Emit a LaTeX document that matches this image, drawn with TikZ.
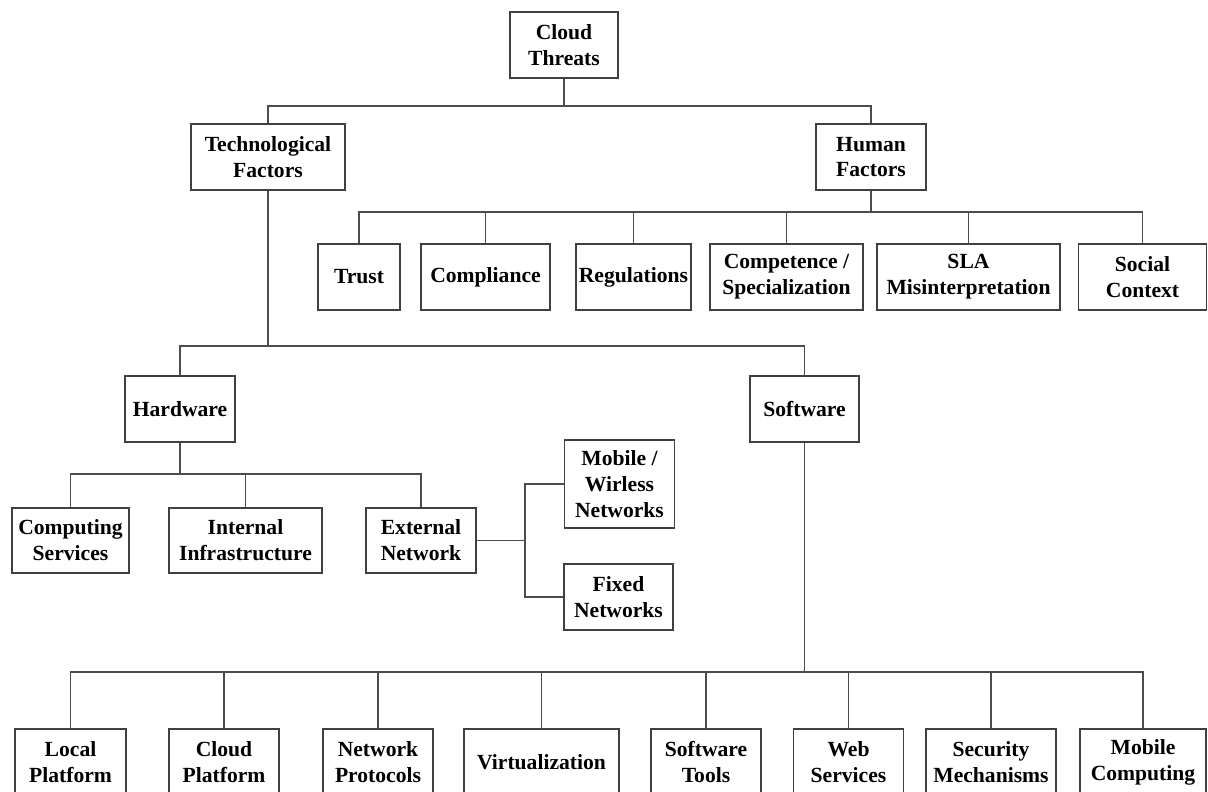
\documentclass[tikz,border=0pt]{standalone}
\usepackage{fontspec}
\setmainfont{Liberation Serif}
\begin{document}
\begin{tikzpicture}[x=1bp,y=-1bp,
  bx/.style={draw=black!75, line width=1.3bp, fill=white, inner sep=0pt, minimum height=66bp,
    align=center, font=\fontsize{21.6bp}{25.8bp}\selectfont\bfseries},
  ln/.style={draw=black!70, line width=1.3bp}]
\useasboundingbox (0,0) rectangle (1208,792);
\clip (0,0) rectangle (1208,792);
% levels
\coordinate (b1) at (0,106);
\coordinate (b2) at (0,212);
\coordinate (b3) at (0,346);
\coordinate (b4) at (0,474);
\coordinate (b5) at (0,672);
\coordinate (ex) at (525,0);
% nodes
\node[bx, minimum width=108bp] (CT) at (564,45) {Cloud\\Threats};
\node[bx, minimum width=154bp] (TF) at (268,157) {Technological\\Factors};
\node[bx, minimum width=110bp] (HF) at (871,157) {Human\\Factors};
\node[bx, minimum width=82bp] (tr) at (359,277) {Trust};
\node[bx, minimum width=129bp] (co) at (485.5,277) {Compliance};
\node[bx, minimum width=115bp] (re) at (633.5,277) {Regulations};
\node[bx, minimum width=153bp] (cs) at (786.5,277) {Competence /\\Specialization};
\node[bx, minimum width=183bp] (sl) at (968.5,277) {SLA\\Misinterpretation};
\node[bx, minimum width=128bp] (sc) at (1142.5,277) {Social\\Context};
\node[bx, minimum width=110bp] (hw) at (180,409) {Hardware};
\node[bx, minimum width=109bp] (sw) at (804.5,409) {Software};
\node[bx, minimum width=117bp, minimum height=65bp] (cp) at (70.5,540.5) {Computing\\Services};
\node[bx, minimum width=153bp, minimum height=65bp] (ii) at (245.5,540.5) {Internal\\Infrastructure};
\node[bx, minimum width=110bp, minimum height=65bp] (en) at (421,540.5) {External\\Network};
\node[bx, minimum width=110bp, minimum height=88bp] (mw) at (619.5,484) {Mobile /\\Wirless\\Networks};
\node[bx, minimum width=109bp] (fn) at (618.5,597) {Fixed\\Networks};
\node[bx, minimum width=111bp] (lp) at (70.5,762) {Local\\Platform};
\node[bx, minimum width=110bp] (cl) at (224,762) {Cloud\\Platform};
\node[bx, minimum width=110bp] (np) at (378,762) {Network\\Protocols};
\node[bx, minimum width=155bp] (vi) at (541.5,762) {Virtualization};
\node[bx, minimum width=110bp] (st) at (706,762) {Software\\Tools};
\node[bx, minimum width=110bp] (ws) at (848.5,762) {Web\\Services};
\node[bx, minimum width=130bp] (sm) at (991,762) {Security\\Mechanisms};
\node[bx, minimum width=126bp] (mc) at (1143,762) {Mobile\\Computing};
% connectors
\draw[ln] (CT.south) -- (CT.south |- b1);
\draw[ln] (TF.north) -- (TF.north |- b1) -| (HF.north);
\draw[ln] (HF.south) -- (HF.south |- b2);
\draw[ln] (tr.north) -- (tr.north |- b2) -| (sc.north);
\foreach \n in {co,re,cs,sl} \draw[ln] (\n.north) -- (\n.north |- b2);
\draw[ln] (TF.south) -- (TF.south |- b3);
\draw[ln] (hw.north) -- (hw.north |- b3) -| (sw.north);
\draw[ln] (hw.south) -- (hw.south |- b4);
\draw[ln] (cp.north) -- (cp.north |- b4) -| (en.north);
\draw[ln] (ii.north) -- (ii.north |- b4);
\draw[ln] (en.east) -- (en.east -| ex);
\draw[ln] (mw.west) -- (mw.west -| ex) -- (fn.west -| ex) -- (fn.west);
\draw[ln] (sw.south) -- (sw.south |- b5);
\draw[ln] (lp.north) -- (lp.north |- b5) -| (mc.north);
\foreach \n in {cl,np,vi,st,ws,sm} \draw[ln] (\n.north) -- (\n.north |- b5);
\end{tikzpicture}
\end{document}
